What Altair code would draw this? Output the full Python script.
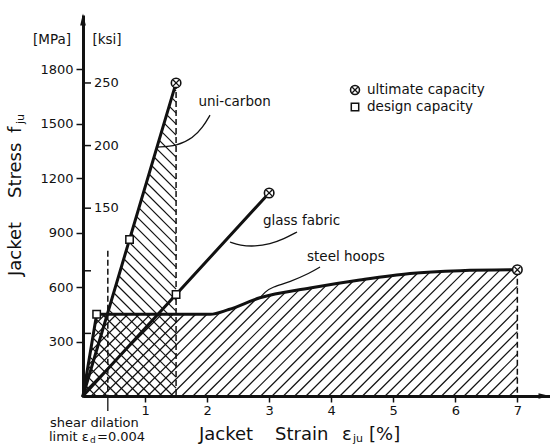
import math
import altair as alt
import pandas as pd

# ---------------- data ----------------
carbon_strain = [0.0, 1.5]
carbon_stress = [0, 1724]
glass_strain = [0.0, 3.0]
glass_stress = [0, 1118]
steel_elastic_strain = [0.0, 0.22]
steel_elastic_stress = [0, 450]
steel_strain = [0.22, 2.05, 2.35, 2.85, 3.66, 4.46, 5.27, 6.08, 7.0]
steel_stress = [450, 450, 476, 541, 595, 639, 675, 690, 695]

ultimate_strain = [1.5, 3.0, 7.0]
ultimate_stress = [1724, 1118, 695]
design_strain = [0.75, 1.5, 0.22]
design_stress = [862, 559, 450]

dashed_strain = [0.4, 1.5, 7.0]
dashed_top = [800, 1724, 695]

mpa_ticks = [300, 600, 900, 1200, 1500, 1800]
ksi_ticks = [50, 100, 150, 200, 250]
ksi_labelled = [150, 200, 250]
strain_ticks = [1, 2, 3, 4, 5, 6, 7]
MPA_PER_KSI = 6.895

label_names = ["uni-carbon", "glass  fabric", "steel  hoops"]
label_strain = [1.86, 2.90, 3.61]
label_stress = [1619, 964, 765]

leader_carbon_strain = [1.193, 1.515, 1.773, 1.934, 2.047]
leader_carbon_stress = [1371, 1377, 1421, 1481, 1547]
leader_glass_strain = [2.369, 2.530, 2.772, 3.014, 3.239, 3.449]
leader_glass_stress = [848, 829, 823, 837, 865, 903]
leader_steel_strain = [2.853, 2.933, 3.046, 3.336, 3.658, 3.820]
leader_steel_stress = [540, 573, 600, 628, 677, 710]

# ---------------- layout ----------------
PAD_L, PAD_T = 83, 15
W, H = 467, 381
SX = 62.05          # px per % strain
SY = 0.1816         # px per MPa
XMAX = W / SX
YMAX = H / SY
INK = "#111111"
FONT = "DejaVu Sans"

xs = alt.Scale(domain=[0, XMAX], nice=False, zero=False)
ys = alt.Scale(domain=[0, YMAX], nice=False, zero=False)
X_AX = alt.Axis(values=strain_ticks, title=None, grid=False, tickSize=6, tickWidth=1.5,
                labelPadding=2, labelFontSize=13, labelFont=FONT, labelColor=INK,
                domainWidth=3, domainColor=INK, tickColor=INK, format="d")
Y_AX = alt.Axis(values=mpa_ticks, title=None, grid=False, tickSize=7, tickWidth=1.5,
                labelPadding=3, labelFontSize=13, labelFont=FONT, labelColor=INK,
                domainWidth=3, domainColor=INK, tickColor=INK, format="d")


def X(f):
    return alt.X(f, scale=xs, axis=X_AX)


def Y(f):
    return alt.Y(f, scale=ys, axis=Y_AX)


def hatch(poly, d, spacing, phase=0.0):
    """Clip 45-degree hatch lines (d=+1 '/', d=-1 '\\') to a polygon given in data units."""
    P = [(x * SX, y * SY) for x, y in poly]
    vals = [Yv - d * Xv for Xv, Yv in P]
    c = math.floor((min(vals) - phase) / spacing) * spacing + phase
    segs = []
    n = len(P)
    while c <= max(vals):
        cuts = []
        for i in range(n):
            (X1, Y1), (X2, Y2) = P[i], P[(i + 1) % n]
            f1 = Y1 - d * X1 - c
            f2 = Y2 - d * X2 - c
            if (f1 > 0) != (f2 > 0):
                t = f1 / (f1 - f2)
                cuts.append(X1 + t * (X2 - X1))
        cuts.sort()
        for a, b in zip(cuts[0::2], cuts[1::2]):
            segs.append({"x": a / SX, "y": (d * a + c) / SY,
                         "x2": b / SX, "y2": (d * b + c) / SY})
        c += spacing
    return segs


steel_poly = list(zip(steel_elastic_strain, steel_elastic_stress)) + \
    list(zip(steel_strain[1:], steel_stress[1:])) + [(steel_strain[-1], 0)]
carbon_at_plateau = carbon_strain[1] * steel_stress[0] / carbon_stress[1]
carbon_poly = [(0, 0), (steel_elastic_strain[1], steel_elastic_stress[1]),
               (carbon_at_plateau, steel_stress[0]),
               (carbon_strain[1], carbon_stress[1]), (carbon_strain[1], 0)]

hatch_df = pd.DataFrame(hatch(steel_poly, 1, 11.3, 3.0) + hatch(carbon_poly, -1, 11.0, 2.0))

base_axes = alt.Chart(hatch_df).mark_rule(color=INK, strokeWidth=1.2).encode(
    x=X("x:Q"), y=Y("y:Q"), x2="x2:Q", y2="y2:Q")

# dashed verticals
dash_df = pd.DataFrame({"x": dashed_strain, "y": dashed_top})
dashed = alt.Chart(dash_df).mark_rule(color=INK, strokeWidth=1.5, strokeDash=[6, 3]).encode(
    x=X("x:Q"), y=Y("y:Q"), y2=alt.datum(0))

# shear dilation pointer below axis
pointer = alt.Chart(pd.DataFrame({"x": [dashed_strain[0]]})).mark_rule(color=INK, strokeWidth=1.3).encode(
    x=X("x:Q"), y=alt.value(H), y2=alt.value(H + 15))

# main curves
rows = []
for name, sx_, sy_ in [("carbon", carbon_strain, carbon_stress),
                       ("glass", glass_strain, glass_stress),
                       ("steel_el", steel_elastic_strain, steel_elastic_stress)]:
    for i, (a, b) in enumerate(zip(sx_, sy_)):
        rows.append({"s": name, "o": i, "x": a, "y": b})
lines_df = pd.DataFrame(rows)
straight = alt.Chart(lines_df).mark_line(color=INK, strokeWidth=3, strokeCap="round").encode(
    x=X("x:Q"), y=Y("y:Q"), detail="s:N", order="o:Q")
steel_df = pd.DataFrame({"x": steel_strain, "y": steel_stress, "o": range(len(steel_strain))})
steel = alt.Chart(steel_df).mark_line(color=INK, strokeWidth=3, interpolate="monotone").encode(
    x=X("x:Q"), y=Y("y:Q"), order="o:Q")

# leader curves
lrows = []
for name, sx_, sy_ in [("c", leader_carbon_strain, leader_carbon_stress),
                       ("g", leader_glass_strain, leader_glass_stress),
                       ("s", leader_steel_strain, leader_steel_stress)]:
    for i, (a, b) in enumerate(zip(sx_, sy_)):
        lrows.append({"s": name, "o": i, "x": a, "y": b})
leaders = alt.Chart(pd.DataFrame(lrows)).mark_line(color=INK, strokeWidth=1.3, interpolate="basis").encode(
    x=X("x:Q"), y=Y("y:Q"), detail="s:N", order="o:Q")

# markers
ult_df = pd.DataFrame({"x": ultimate_strain, "y": ultimate_stress})
ult_circle = alt.Chart(ult_df).mark_point(shape="circle", size=90, filled=True, fill="white",
                                          stroke=INK, strokeWidth=1.6, opacity=1).encode(
    x=X("x:Q"), y=Y("y:Q"))
XPATH = "M-0.62,-0.62L0.62,0.62M-0.62,0.62L0.62,-0.62"
ult_x = alt.Chart(ult_df).mark_point(shape=XPATH, size=90, filled=False, stroke=INK,
                                     strokeWidth=1.3, opacity=1).encode(
    x=X("x:Q"), y=Y("y:Q"))
des_df = pd.DataFrame({"x": design_strain, "y": design_stress})
des = alt.Chart(des_df).mark_point(shape="square", size=55, filled=True, fill="white",
                                   stroke=INK, strokeWidth=1.5, opacity=1).encode(
    x=X("x:Q"), y=Y("y:Q"))

# curve labels
lab_df = pd.DataFrame({"t": label_names, "x": label_strain, "y": label_stress})
labels = alt.Chart(lab_df).mark_text(align="left", baseline="middle", font=FONT,
                                     fontSize=13.5, color=INK).encode(
    x=X("x:Q"), y=Y("y:Q"), text="t:N")

# ksi secondary ticks on the stress axis
ksi_df = pd.DataFrame({"k": ksi_ticks, "y": [k * MPA_PER_KSI for k in ksi_ticks]})
ksi_rules = alt.Chart(ksi_df).mark_rule(color=INK, strokeWidth=1.5).encode(
    y=Y("y:Q"), x=alt.value(1), x2=alt.value(8))
ksi_lab_df = pd.DataFrame({"t": [str(k) for k in ksi_labelled],
                           "y": [k * MPA_PER_KSI for k in ksi_labelled]})
ksi_labels = alt.Chart(ksi_lab_df).mark_text(align="left", baseline="middle", font=FONT,
                                             fontSize=13, color=INK).encode(
    y=Y("y:Q"), x=alt.value(11), text="t:N")

# axis arrows
arrow_up = alt.Chart(pd.DataFrame({"a": [0]})).mark_point(
    shape="M0,-1L0.38,0.6L-0.38,0.6Z", size=225, filled=True, color=INK, opacity=1).encode(
    x=alt.value(0), y=alt.value(6))
arrow_right = alt.Chart(pd.DataFrame({"a": [0]})).mark_point(
    shape="M1,0L-0.6,0.38L-0.6,-0.38Z", size=225, filled=True, color=INK, opacity=1).encode(
    x=alt.value(W - 7), y=alt.value(H))


def ptext(txt, x, y, size, align="left", angle=0, baseline="middle"):
    return alt.Chart(pd.DataFrame({"t": [txt]})).mark_text(
        align=align, baseline=baseline, fontSize=size, angle=angle, font=FONT, color=INK).encode(
        x=alt.value(x - PAD_L), y=alt.value(y - PAD_T), text="t:N")


texts = [
    ptext("[MPa]", 52, 40, 13.5, align="center"),
    ptext("[ksi]", 107, 40, 13.5, align="center"),
    # y title (rotated)
    ptext("Jacket", 16, 276, 18, angle=270),
    ptext("Stress", 16, 198, 18, angle=270),
    ptext("f", 16, 133, 18, angle=270),
    ptext("ju", 21, 124, 11, angle=270),
    # x title
    ptext("Jacket", 199, 435, 18),
    ptext("Strain", 275, 435, 18),
    ptext("ε", 342, 435, 18),
    ptext("ju", 353, 439, 11),
    ptext("[%]", 369, 435, 18),
    # shear dilation note
    ptext("shear  dilation", 50, 423, 13),
    ptext("limit ε", 49, 437, 13),
    ptext("d", 90, 440, 9),
    ptext("=0.004", 97, 437, 13),
    # legend
    ptext("ultimate  capacity", 367, 90, 13.5),
    ptext("design  capacity", 367, 107, 13.5),
]

leg_ult_c = alt.Chart(pd.DataFrame({"a": [0]})).mark_point(
    shape="circle", size=80, filled=True, fill="white", stroke=INK, strokeWidth=1.6, opacity=1).encode(
    x=alt.value(355 - PAD_L), y=alt.value(90 - PAD_T))
leg_ult_x = alt.Chart(pd.DataFrame({"a": [0]})).mark_point(
    shape=XPATH, size=80, filled=False, stroke=INK, strokeWidth=1.3, opacity=1).encode(
    x=alt.value(355 - PAD_L), y=alt.value(90 - PAD_T))
leg_des = alt.Chart(pd.DataFrame({"a": [0]})).mark_point(
    shape="square", size=55, filled=True, fill="white", stroke=INK, strokeWidth=1.5, opacity=1).encode(
    x=alt.value(355 - PAD_L), y=alt.value(107 - PAD_T))

chart = alt.layer(
    base_axes, dashed, pointer, straight, steel, leaders, ult_circle, ult_x, des,
    labels, ksi_rules, ksi_labels, arrow_up, arrow_right,
    leg_ult_c, leg_ult_x, leg_des, *texts,
).properties(
    width=W, height=H,
    autosize=alt.AutoSizeParams(type="none"),
    padding={"left": PAD_L, "top": PAD_T, "right": 0, "bottom": 445 - PAD_T - H},
    background="white",
).configure_view(strokeWidth=0)

chart.save("out.html", embed_options={"renderer": "svg", "actions": False})
